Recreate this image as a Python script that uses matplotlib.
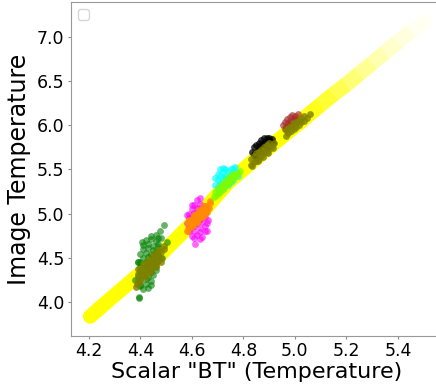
import matplotlib
matplotlib.use("Agg")
import matplotlib.pyplot as plt
from matplotlib.collections import LineCollection

# yellow band (centre line) and its fading
band_x = [4.205, 4.30, 4.43, 4.62, 4.74, 4.88, 5.01, 5.05, 5.10, 5.15, 5.20, 5.25, 5.30, 5.35, 5.40, 5.45, 5.52]
band_y = [3.84, 4.08, 4.40, 4.95, 5.35, 5.70, 6.01, 6.11, 6.23, 6.35, 6.46, 6.58, 6.70, 6.82, 6.94, 7.06, 7.20]
band_alpha = [1, 1, 1, 1, 1, 1, 0.97, 0.9, 0.8, 0.68, 0.55, 0.42, 0.3, 0.2, 0.12, 0.05]

# measured clusters
green_x = [4.492, 4.476, 4.502, 4.394, 4.482, 4.392, 4.379, 4.398, 4.405, 4.389, 4.395,
           4.44, 4.46, 4.47, 4.42, 4.44, 4.46, 4.48, 4.41, 4.43, 4.45, 4.47, 4.41, 4.43, 4.45, 4.47,
           4.40, 4.42, 4.44, 4.46, 4.41, 4.43, 4.45, 4.47, 4.40, 4.42, 4.44, 4.46, 4.40, 4.42, 4.44,
           4.46, 4.40, 4.42, 4.44, 4.46, 4.39, 4.41, 4.43, 4.45, 4.40, 4.42, 4.44, 4.40, 4.42, 4.44,
           4.41, 4.43]
green_y = [4.87, 4.80, 4.68, 4.06, 4.50, 4.46, 4.25, 4.18, 4.68, 4.45, 4.05,
           4.75, 4.76, 4.73, 4.70, 4.71, 4.69, 4.72, 4.65, 4.66, 4.64, 4.66, 4.60, 4.61, 4.59, 4.62,
           4.55, 4.56, 4.54, 4.57, 4.50, 4.51, 4.49, 4.52, 4.45, 4.46, 4.44, 4.46, 4.40, 4.41, 4.39,
           4.41, 4.35, 4.36, 4.34, 4.36, 4.30, 4.31, 4.29, 4.31, 4.25, 4.26, 4.24, 4.20, 4.21, 4.19,
           4.15, 4.16]
olive1_x = [4.385, 4.39, 4.39, 4.40, 4.40, 4.41, 4.41, 4.42, 4.42, 4.43, 4.43, 4.44, 4.44,
            4.45, 4.45, 4.46, 4.46, 4.47, 4.47, 4.48, 4.48, 4.49,
            4.383, 4.40, 4.42, 4.44, 4.46, 4.48, 4.392, 4.41, 4.43, 4.45, 4.47, 4.49]
olive1_y = [4.21, 4.25, 4.32, 4.28, 4.36, 4.31, 4.39, 4.33, 4.41, 4.36, 4.44, 4.39, 4.47,
            4.42, 4.50, 4.44, 4.52, 4.47, 4.55, 4.50, 4.57, 4.60,
            4.17, 4.23, 4.29, 4.34, 4.40, 4.45, 4.37, 4.43, 4.48, 4.54, 4.59, 4.63]

magenta_x = [4.631, 4.618, 4.579, 4.612, 4.663, 4.657, 4.60,
             4.61, 4.63, 4.65, 4.60, 4.62, 4.64, 4.66, 4.59, 4.61, 4.63, 4.65, 4.59, 4.61, 4.63,
             4.65, 4.58, 4.60, 4.62, 4.64, 4.66, 4.59, 4.61, 4.63, 4.65, 4.59, 4.61, 4.63, 4.65,
             4.60, 4.62, 4.64, 4.61, 4.63]
magenta_y = [5.18, 5.16, 4.99, 4.66, 4.93, 4.80, 5.10,
             5.10, 5.11, 5.09, 5.05, 5.06, 5.04, 5.06, 5.00, 5.01, 4.99, 5.01, 4.95, 4.96, 4.94,
             4.96, 4.90, 4.91, 4.89, 4.91, 4.90, 4.85, 4.86, 4.84, 4.86, 4.80, 4.81, 4.79, 4.81,
             4.75, 4.76, 4.74, 4.72, 4.71]
orange_x = [4.585, 4.585, 4.595, 4.595, 4.605, 4.605, 4.615, 4.615, 4.625, 4.625, 4.635,
            4.635, 4.645, 4.645, 4.655, 4.655, 4.665, 4.67,
            4.58, 4.60, 4.62, 4.64, 4.66, 4.59, 4.61, 4.63, 4.65, 4.672]
orange_y = [4.83, 4.89, 4.86, 4.92, 4.88, 4.95, 4.91, 4.98, 4.94, 5.01, 4.96,
            5.03, 4.99, 5.06, 5.02, 5.09, 5.06, 5.12,
            4.81, 4.86, 4.91, 4.96, 5.02, 4.93, 4.98, 5.04, 5.09, 5.14]

cyan_x = [4.69, 4.70, 4.70, 4.71, 4.71, 4.72, 4.72, 4.73, 4.74, 4.75, 4.76, 4.767, 4.69, 4.70,
          4.71, 4.72, 4.73, 4.74, 4.75, 4.76, 4.77, 4.70, 4.72, 4.74, 4.76, 4.78, 4.73, 4.75]
cyan_y = [5.40, 5.45, 5.38, 5.50, 5.43, 5.47, 5.52, 5.50, 5.48, 5.50, 5.52, 5.53, 5.32, 5.30,
          5.35, 5.40, 5.43, 5.40, 5.44, 5.45, 5.47, 5.25, 5.28, 5.32, 5.38, 5.42, 5.35, 5.36]
lime_x = [4.69, 4.69, 4.70, 4.70, 4.71, 4.71, 4.72, 4.72, 4.73, 4.73, 4.74, 4.74, 4.75,
          4.75, 4.76, 4.76, 4.77, 4.78, 4.685, 4.705, 4.725, 4.745, 4.765, 4.785]
lime_y = [5.20, 5.25, 5.22, 5.28, 5.25, 5.31, 5.28, 5.34, 5.31, 5.37, 5.34, 5.40, 5.37,
          5.42, 5.40, 5.45, 5.43, 5.46, 5.19, 5.24, 5.30, 5.36, 5.42, 5.48]

black_x = [4.835, 4.84, 4.845, 4.85, 4.855, 4.86, 4.865, 4.87, 4.875, 4.88, 4.885, 4.89,
           4.895, 4.90, 4.905, 4.91, 4.915, 4.84, 4.85, 4.87, 4.89, 4.90]
black_y = [5.70, 5.75, 5.68, 5.78, 5.72, 5.80, 5.76, 5.83, 5.79, 5.85, 5.81, 5.86,
           5.83, 5.85, 5.82, 5.84, 5.80, 5.66, 5.64, 5.70, 5.75, 5.78]
olive2_x = [4.83, 4.83, 4.84, 4.84, 4.85, 4.85, 4.86, 4.86, 4.87, 4.87, 4.88, 4.88, 4.89,
            4.89, 4.90, 4.90, 4.91, 4.92, 4.835, 4.855, 4.875, 4.895, 4.915]
olive2_y = [5.55, 5.62, 5.58, 5.65, 5.60, 5.68, 5.62, 5.70, 5.65, 5.72, 5.68, 5.75, 5.70,
            5.78, 5.73, 5.80, 5.76, 5.80, 5.54, 5.59, 5.64, 5.69, 5.74]

brown_x = [4.955, 4.96, 4.965, 4.97, 4.975, 4.98, 4.985, 4.99, 4.995, 5.00, 5.005, 5.01, 4.96, 4.98]
brown_y = [6.00, 6.04, 5.98, 6.07, 6.02, 6.09, 6.05, 6.11, 6.07, 6.10, 6.06, 6.12, 5.96, 6.00]
olive3_x = [4.965, 4.965, 4.975, 4.975, 4.985, 4.985, 4.995, 4.995, 5.005, 5.005, 5.015,
            5.015, 5.025, 5.025, 5.035, 5.035, 5.045, 5.06]
olive3_y = [5.88, 5.94, 5.91, 5.97, 5.93, 5.99, 5.96, 6.02, 5.98, 6.04, 6.00, 6.06, 6.03,
            6.08, 6.05, 6.10, 6.08, 6.13]

fig = plt.figure(figsize=(4.36, 3.87), dpi=100)
ax = fig.add_axes([0.162, 0.1318, 0.870, 0.863])

# band: opaque part as one line, faded part as separate segments
n_solid = band_alpha.count(1) + 1
ax.plot(band_x[:n_solid], band_y[:n_solid], color="yellow", lw=10.5,
        solid_capstyle="round", solid_joinstyle="round", zorder=1)
segs = [[(band_x[i], band_y[i]), (band_x[i + 1], band_y[i + 1])]
        for i in range(n_solid - 1, len(band_x) - 1)]
fade = LineCollection(segs, colors=[(1, 1, 0, a) for a in band_alpha[n_solid - 1:]],
                      linewidths=11, capstyle="butt", zorder=1)
ax.add_collection(fade)

s = 24
ax.scatter(green_x, green_y, s=s, color="green", alpha=0.6, lw=0, zorder=2)
ax.scatter(magenta_x, magenta_y, s=s, color="magenta", alpha=0.6, lw=0, zorder=2)
ax.scatter(cyan_x, cyan_y, s=s, color="cyan", alpha=0.65, lw=0, zorder=2)
ax.scatter(black_x, black_y, s=s, color="black", alpha=0.75, lw=0, zorder=2)
ax.scatter(brown_x, brown_y, s=s, color="brown", alpha=0.65, lw=0, zorder=2)

ax.scatter(olive1_x, olive1_y, s=s, color="olive", alpha=0.8, lw=0, zorder=3)
ax.scatter(orange_x, orange_y, s=s, color="darkorange", alpha=0.8, lw=0, zorder=3)
ax.scatter(lime_x, lime_y, s=s, color="lawngreen", alpha=0.7, lw=0, zorder=3)
ax.scatter(olive2_x, olive2_y, s=s, color="olive", alpha=0.8, lw=0, zorder=3)
ax.scatter(olive3_x, olive3_y, s=s, color="olive", alpha=0.8, lw=0, zorder=3)

ax.set_xlim(4.129, 5.602)
ax.set_ylim(3.619, 7.39)
ax.set_xticks([4.2, 4.4, 4.6, 4.8, 5.0, 5.2, 5.4])
ax.set_yticks([4.0, 4.5, 5.0, 5.5, 6.0, 6.5, 7.0])
ax.tick_params(labelsize=12.5, color="0.55", length=2.5, pad=2)
for sp in ax.spines.values():
    sp.set_color("0.6")

ax.set_xlabel('Scalar "BT" (Temperature)', fontsize=16)
ax.xaxis.set_label_coords(0.49, -0.078)
ax.set_ylabel("Image Temperature", fontsize=17, labelpad=4)
ax.legend(handles=[], loc="upper left")

fig.savefig("out.png", dpi=100)
